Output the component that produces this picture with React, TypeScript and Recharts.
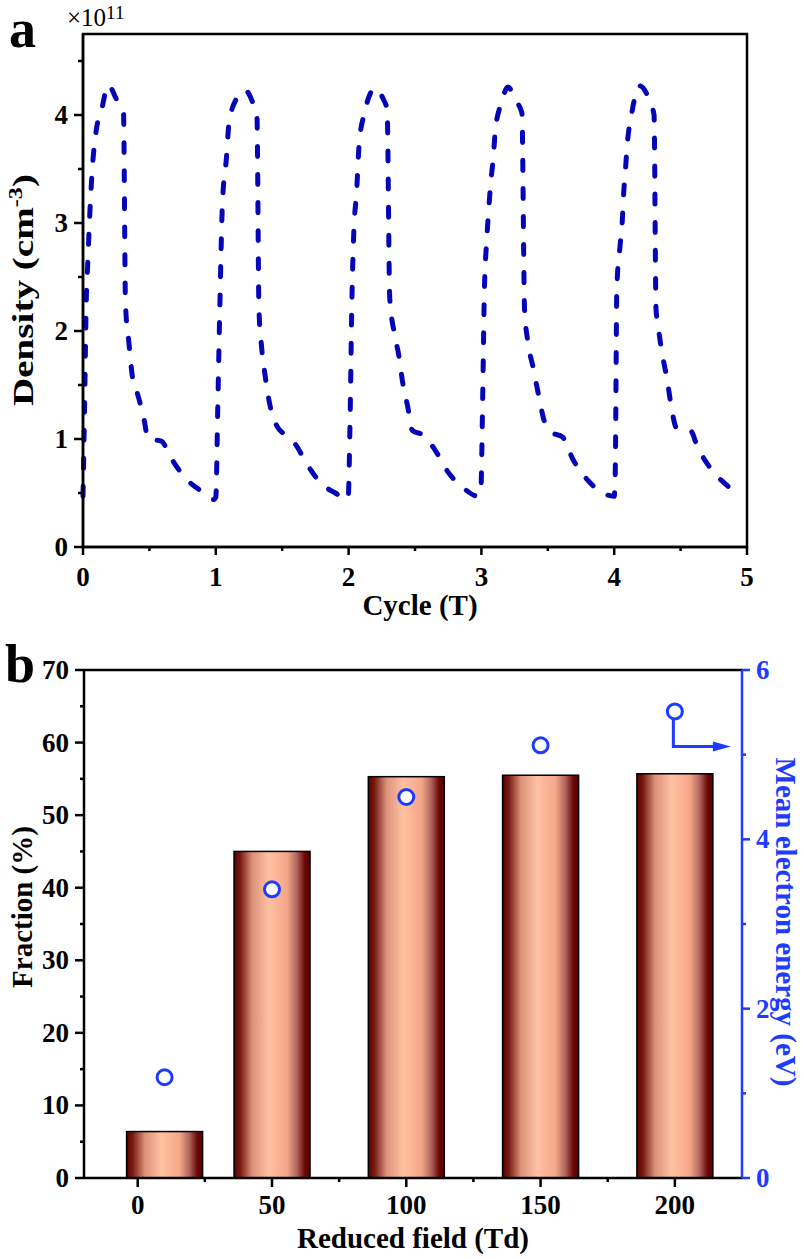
import React from "react";
import {
  LineChart,
  Line,
  XAxis,
  YAxis,
  ReferenceArea,
  ComposedChart,
  Bar,
  Scatter,
  ReferenceLine,
} from "recharts";

const FONT = "'Liberation Serif', 'Times New Roman', Times, serif";
const LINE_BLUE = "#0505b8";
const BLUE = "#1e3cff";

// ---- Panel a: electron density over 5 cycles ([cycle, density x1e11]) ----
const cycle1: [number, number][] = [
  [0.0, 0.47], [0.012, 1.3], [0.025, 2.3], [0.035, 2.6], [0.05, 3.05], [0.07, 3.5],
  [0.1, 3.86], [0.14, 4.05], [0.19, 4.28], [0.25, 4.15], [0.305, 4.02], [0.32, 2.25],
  [0.345, 1.9], [0.375, 1.55], [0.41, 1.42], [0.46, 1.18], [0.49, 1.0], [0.59, 0.98],
  [0.66, 0.83], [0.77, 0.64], [0.9, 0.51], [0.985, 0.44],
];
const cycle2: [number, number][] = [
  [1.0, 0.46], [1.015, 1.3], [1.03, 2.2], [1.05, 3.18], [1.08, 3.6], [1.1, 3.93],
  [1.165, 4.17], [1.22, 4.23], [1.27, 4.14], [1.31, 3.98], [1.325, 2.2], [1.345, 1.85],
  [1.37, 1.6], [1.41, 1.3], [1.46, 1.12], [1.52, 1.04], [1.6, 0.95], [1.68, 0.78],
  [1.8, 0.58], [1.9, 0.5], [1.985, 0.44],
];
const cycle3: [number, number][] = [
  [1.997, 0.45], [2.01, 1.1], [2.025, 2.29], [2.04, 2.94], [2.06, 3.28], [2.08, 3.74],
  [2.12, 4.02], [2.2, 4.25], [2.26, 4.15], [2.29, 4.05], [2.31, 2.3], [2.35, 1.95],
  [2.38, 1.76], [2.41, 1.5], [2.445, 1.3], [2.48, 1.08], [2.57, 1.03], [2.65, 0.9],
  [2.745, 0.7], [2.87, 0.54], [2.975, 0.47],
];
const cycle4: [number, number][] = [
  [2.995, 0.5], [3.01, 1.4], [3.022, 2.35], [3.04, 2.84], [3.055, 3.12], [3.07, 3.37],
  [3.09, 3.61], [3.105, 3.86], [3.15, 4.11], [3.2, 4.26], [3.26, 4.13], [3.305, 4.02],
  [3.325, 2.2], [3.35, 1.9], [3.39, 1.66], [3.43, 1.41], [3.475, 1.16], [3.53, 1.06],
  [3.61, 1.02], [3.69, 0.81], [3.8, 0.62], [3.93, 0.49], [4.0, 0.47],
];
const cycle5: [number, number][] = [
  [4.008, 0.7], [4.02, 2.4], [4.045, 2.8], [4.06, 3.0], [4.07, 3.25], [4.085, 3.5],
  [4.1, 3.75], [4.13, 4.0], [4.19, 4.27], [4.27, 4.12], [4.3, 4.0], [4.315, 2.2],
  [4.33, 2.05], [4.36, 1.8], [4.4, 1.54], [4.43, 1.3], [4.47, 1.1], [4.58, 1.07],
  [4.62, 0.95], [4.73, 0.72], [4.85, 0.57], [4.95, 0.47],
];
const cycleTicks = [0, 0.5, 1, 1.5, 2, 2.5, 3, 3.5, 4, 4.5, 5];
const densityTicks = [0, 0.5, 1, 1.5, 2, 2.5, 3, 3.5, 4, 4.5];

// ---- Panel b: fraction (bars) and mean electron energy (circles) ----
const fieldValues = [10, 50, 100, 150, 200];
const fractionValues = [6.4, 45.0, 55.3, 55.5, 55.7];
const energyValues = [1.19, 3.41, 4.5, 5.11, 5.51];
const fieldTicks = [0, 25, 50, 75, 100, 125, 150, 175, 200];
const fractionTicks = [0, 5, 10, 15, 20, 25, 30, 35, 40, 45, 50, 55, 60, 65, 70];
const energyTicks = [0, 1, 2, 3, 4, 5, 6];

const densityData = [...cycle1, ...cycle2, ...cycle3, ...cycle4, ...cycle5].map(([t, n]) => ({ t, n }));
const fieldData = fieldValues.map((field, i) => ({
  field,
  fraction: fractionValues[i],
  energy: energyValues[i],
}));

const isInt = (v: number) => Math.abs(v - Math.round(v)) < 1e-6;
const isMult = (v: number, m: number) => Math.abs(v / m - Math.round(v / m)) < 1e-6;

const TICK_FS = 27;
const tickStyle: React.CSSProperties = {
  fontFamily: FONT,
  fontWeight: 700,
  fontSize: `${TICK_FS}px`,
};

function makeLeftTick(major: (v: number) => boolean, majorLen: number, minorLen: number, color: string) {
  return (props: any) => {
    const { x, y, payload } = props;
    const v = payload.value;
    const m = major(v);
    return (
      <g>
        <line x1={x} x2={x - (m ? majorLen : minorLen)} y1={y} y2={y} stroke={color} strokeWidth={2.5} />
        {m && (
          <text x={x - 15} y={y + 9} textAnchor="end" fill={color} fontSize={TICK_FS} fontWeight="bold" style={tickStyle}>
            {v}
          </text>
        )}
      </g>
    );
  };
}

function makeRightTick(major: (v: number) => boolean, majorLen: number, minorLen: number, color: string) {
  return (props: any) => {
    const { x, y, payload } = props;
    const v = payload.value;
    const m = major(v);
    return (
      <g>
        <line x1={x} x2={x + (m ? majorLen : minorLen)} y1={y} y2={y} stroke={color} strokeWidth={2.5} />
        {m && (
          <text x={x + 14} y={y + 9} textAnchor="start" fill={color} fontSize={TICK_FS} fontWeight="bold" style={tickStyle}>
            {v}
          </text>
        )}
      </g>
    );
  };
}

function makeBottomTick(major: (v: number) => boolean, majorLen: number, minorLen: number, labelDy: number) {
  return (props: any) => {
    const { x, y, payload } = props;
    const v = payload.value;
    const m = major(v);
    return (
      <g>
        <line x1={x} x2={x} y1={y} y2={y + (m ? majorLen : minorLen)} stroke="#000" strokeWidth={2.5} />
        {m && (
          <text x={x} y={y + labelDy} textAnchor="middle" fill="#000" fontSize={TICK_FS} fontWeight="bold" style={tickStyle}>
            {v}
          </text>
        )}
      </g>
    );
  };
}

const TickA_Y = makeLeftTick(isInt, 9, 5, "#000");
const TickA_X = makeBottomTick(isInt, 8, 4, 39);
const TickB_Y = makeLeftTick((v) => isMult(v, 10), 9, 4, "#000");
const TickB_Y2 = makeRightTick((v) => isMult(v, 2), 8, 4, BLUE);
const TickB_X = makeBottomTick((v) => isMult(v, 50), 9, 4, 36);

const BarShape = (props: any) => {
  const { x, y, width, height } = props;
  const cx = x + width / 2;
  const w = 76;
  return (
    <rect
      x={cx - w / 2}
      y={y}
      width={w}
      height={height}
      fill="url(#copperGrad)"
      stroke="#000"
      strokeWidth={1.5}
    />
  );
};

const CircleShape = (props: any) => {
  const { cx, cy, payload } = props;
  const isLast = payload && payload.field === fieldValues[fieldValues.length - 1];
  return (
    <g>
      {isLast && (
        <g>
          <polyline
            points={`${cx - 1.5},${cy + 8} ${cx - 1.5},${cy + 35} ${cx + 42},${cy + 35}`}
            fill="none"
            stroke={BLUE}
            strokeWidth={3}
          />
          <polygon points={`${cx + 38},${cy + 30} ${cx + 56},${cy + 35} ${cx + 38},${cy + 40}`} fill={BLUE} />
        </g>
      )}
      <circle cx={cx} cy={cy} r={7.5} fill="#fff" stroke={BLUE} strokeWidth={3} />
    </g>
  );
};

const titleStyle = {
  fontFamily: FONT,
  fontWeight: "bold" as const,
  fontSize: 29,
};

export default function App() {
  return (
    <div style={{ position: "absolute", left: 0, top: 0, width: 804, height: 1259, background: "#fff" }}>
      <div style={{ position: "absolute", left: 0, top: 0 }}>
        <LineChart width={804} height={620} data={densityData} margin={{ top: 34, right: 57, bottom: 33, left: 0 }}>
          <XAxis
            dataKey="t"
            type="number"
            domain={[0, 5]}
            ticks={cycleTicks}
            interval={0}
            tickSize={0}
            tickMargin={0}
            tickLine={false}
            tick={TickA_X}
            axisLine={{ stroke: "#000", strokeWidth: 2.5 }}
            height={40}
          />
          <YAxis
            type="number"
            domain={[0, 4.75]}
            ticks={densityTicks}
            interval={0}
            tickSize={0}
            tickMargin={0}
            tickLine={false}
            tick={TickA_Y}
            axisLine={{ stroke: "#000", strokeWidth: 2.5 }}
            width={83}
          />
          <ReferenceArea x1={0} x2={5} y1={0} y2={4.75} fill="none" fillOpacity={0} stroke="#000" strokeWidth={2.5} />
          <Line
            dataKey="n"
            type="monotone"
            stroke={LINE_BLUE}
            strokeWidth={5}
            strokeDasharray="10 18"
            strokeLinecap="round"
            dot={false}
            activeDot={false}
            isAnimationActive={false}
          />
        </LineChart>
      </div>
      <div style={{ position: "absolute", left: 0, top: 620 }}>
        <ComposedChart width={804} height={639} data={fieldData} margin={{ top: 50, right: 0, bottom: 41, left: 0 }}>
          <defs>
            <linearGradient id="copperGrad" x1="0" y1="0" x2="1" y2="0">
              <stop offset="0" stopColor="#5a0000" />
              <stop offset="0.08" stopColor="#761a10" />
              <stop offset="0.24" stopColor="#dc917a" />
              <stop offset="0.46" stopColor="#ffc2a2" />
              <stop offset="0.7" stopColor="#f5a688" />
              <stop offset="0.82" stopColor="#b26a60" />
              <stop offset="0.93" stopColor="#6c0808" />
              <stop offset="1" stopColor="#5a0000" />
            </linearGradient>
          </defs>
          <XAxis
            dataKey="field"
            type="number"
            domain={[-20, 225]}
            ticks={fieldTicks}
            interval={0}
            tickSize={0}
            tickMargin={0}
            tickLine={false}
            tick={TickB_X}
            axisLine={{ stroke: "#000", strokeWidth: 2.5 }}
            height={40}
          />
          <YAxis
            yAxisId="left"
            type="number"
            domain={[0, 70]}
            ticks={fractionTicks}
            interval={0}
            tickSize={0}
            tickMargin={0}
            tickLine={false}
            tick={TickB_Y}
            axisLine={{ stroke: "#000", strokeWidth: 2.5 }}
            width={84}
          />
          <YAxis
            yAxisId="right"
            orientation="right"
            type="number"
            domain={[0, 6]}
            ticks={energyTicks}
            interval={0}
            tickSize={0}
            tickMargin={0}
            tickLine={false}
            tick={TickB_Y2}
            axisLine={{ stroke: BLUE, strokeWidth: 2.5 }}
            width={62}
          />
          <ReferenceLine yAxisId="left" y={70} stroke="#000" strokeWidth={2.5} />
          <Bar yAxisId="left" dataKey="fraction" shape={BarShape} isAnimationActive={false} />
          <Scatter yAxisId="right" dataKey="energy" shape={CircleShape} isAnimationActive={false} />
        </ComposedChart>
      </div>
      <svg
        width={804}
        height={1259}
        style={{ position: "absolute", left: 0, top: 0, pointerEvents: "none" }}
      >
        <text x={9} y={47} fontFamily={FONT} fontWeight="bold" fontSize={54}>a</text>
        <text x={5} y={682} fontFamily={FONT} fontWeight="bold" fontSize={54}>b</text>
        <text x={67} y={26} fontFamily={FONT} fontSize={25}>
          ×10<tspan fontSize={19} dy={-7}>11</tspan>
        </text>
        <text
          transform="translate(33,290) rotate(-90)"
          textAnchor="middle"
          textLength={232}
          lengthAdjust="spacingAndGlyphs"
          {...titleStyle}
        >
          Density (cm<tspan fontSize={18} dy={-11}>-3</tspan><tspan dy={11}>)</tspan>
        </text>
        <text x={420} y={615} textAnchor="middle" {...titleStyle}>Cycle (T)</text>
        <text transform="translate(32,907) rotate(-90)" textAnchor="middle" {...titleStyle}>Fraction (%)</text>
        <text transform="translate(776,922) rotate(90)" textAnchor="middle" fill={BLUE} {...titleStyle}>
          Mean electron energy (eV)
        </text>
        <text x={413} y={1248} textAnchor="middle" {...titleStyle}>Reduced field (Td)</text>
      </svg>
    </div>
  );
}
